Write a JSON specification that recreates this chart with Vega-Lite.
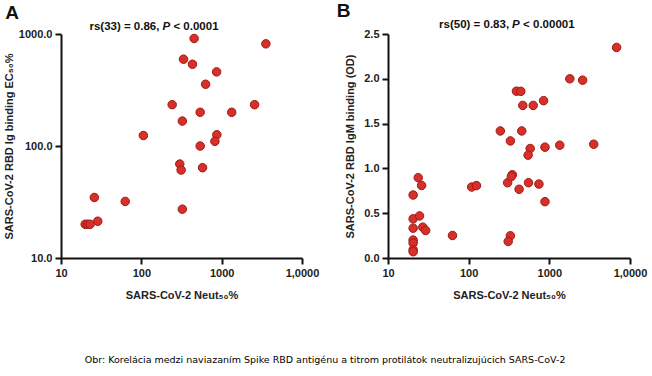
{
  "$schema": "https://vega.github.io/schema/vega-lite/v6.json",
  "background": "white",
  "padding": {"left": 3, "top": 1, "right": 5, "bottom": 5},
  "datasets": {
    "A": [
      {"neut": 454, "ec50": 912}, {"neut": 3550, "ec50": 817}, {"neut": 335, "ec50": 596},
      {"neut": 433, "ec50": 537}, {"neut": 865, "ec50": 459}, {"neut": 631, "ec50": 356},
      {"neut": 242, "ec50": 234}, {"neut": 540, "ec50": 200}, {"neut": 1334, "ec50": 200},
      {"neut": 2570, "ec50": 234}, {"neut": 324, "ec50": 167}, {"neut": 106, "ec50": 124},
      {"neut": 871, "ec50": 126}, {"neut": 824, "ec50": 110}, {"neut": 540, "ec50": 100},
      {"neut": 301, "ec50": 69}, {"neut": 313, "ec50": 61}, {"neut": 578, "ec50": 64},
      {"neut": 26, "ec50": 34.7}, {"neut": 63, "ec50": 32}, {"neut": 324, "ec50": 27.3},
      {"neut": 20, "ec50": 20}, {"neut": 21.5, "ec50": 20}, {"neut": 23, "ec50": 20},
      {"neut": 28.7, "ec50": 21.3}
    ],
    "B": [
      {"neut": 6820, "od": 2.35}, {"neut": 1795, "od": 2.0}, {"neut": 2585, "od": 1.985},
      {"neut": 391, "od": 1.862}, {"neut": 443, "od": 1.86}, {"neut": 469, "od": 1.703},
      {"neut": 631, "od": 1.703}, {"neut": 849, "od": 1.756}, {"neut": 247, "od": 1.418},
      {"neut": 455, "od": 1.418}, {"neut": 329, "od": 1.307}, {"neut": 579, "od": 1.222},
      {"neut": 546, "od": 1.148}, {"neut": 883, "od": 1.237}, {"neut": 1346, "od": 1.259},
      {"neut": 3550, "od": 1.27}, {"neut": 20.5, "od": 0.703}, {"neut": 23.7, "od": 0.896},
      {"neut": 26.1, "od": 0.81}, {"neut": 20.5, "od": 0.437}, {"neut": 24.6, "od": 0.47},
      {"neut": 20.5, "od": 0.333}, {"neut": 27, "od": 0.344}, {"neut": 29.3, "od": 0.307},
      {"neut": 20.5, "od": 0.2}, {"neut": 20.5, "od": 0.167}, {"neut": 20.5, "od": 0.092},
      {"neut": 20.5, "od": 0.07}, {"neut": 63, "od": 0.251}, {"neut": 109, "od": 0.792},
      {"neut": 125, "od": 0.808}, {"neut": 304, "od": 0.84}, {"neut": 348, "od": 0.929},
      {"neut": 338, "od": 0.91}, {"neut": 422, "od": 0.767}, {"neut": 552, "od": 0.84},
      {"neut": 743, "od": 0.825}, {"neut": 883, "od": 0.629}, {"neut": 329, "od": 0.248},
      {"neut": 309, "od": 0.185}
    ],
    "annA": [{"x": 22.6, "y": 1166, "t1": "rs(33) = 0.86,", "t2": "P", "t3": "< 0.0001"}],
    "annB": [{"x": 43, "y": 2.603, "t1": "rs(50) = 0.83,", "t2": "P", "t3": "< 0.00001"}]
  },
  "title": {
    "text": "Obr:  Korelácia medzi naviazaním Spike RBD antigénu a titrom protilátok neutralizujúcich SARS-CoV-2",
    "orient": "bottom", "anchor": "middle", "font": "DejaVu Sans", "fontSize": 9.5,
    "fontWeight": "normal", "color": "#000", "offset": 55
  },
  "spacing": 17,
  "hconcat": [
    {
      "title": {"text": "A", "anchor": "start", "frame": "bounds", "fontSize": 19, "fontWeight": "bold", "font": "Liberation Sans", "color": "#111", "offset": -2, "dx": 2},
      "width": 241,
      "height": 224,
      "layer": [
        {
          "data": {"name": "A"},
          "mark": {"type": "circle", "size": 72, "opacity": 1, "fill": "#d7302a", "stroke": "#a01a14", "strokeWidth": 1},
          "encoding": {
            "x": {"field": "neut", "type": "quantitative",
              "scale": {"type": "log", "domain": [10, 10000], "nice": false},
              "axis": {"values": [10, 100, 1000, 10000], "labelExpr": "datum.value == 10000 ? '1,0000' : format(datum.value, 'd')", "title": "SARS-CoV-2 Neut₅₀%", "titlePadding": 11}},
            "y": {"field": "ec50", "type": "quantitative",
              "scale": {"type": "log", "domain": [10, 1000], "nice": false},
              "axis": {"values": [10, 100, 1000], "format": ".1f", "title": "SARS-CoV-2 RBD Ig binding EC₅₀%", "titlePadding": 4}}
          }
        },
        {
          "data": {"name": "annA"},
          "mark": {"type": "text", "align": "left", "baseline": "middle", "font": "Liberation Sans", "fontSize": 11.5, "fontWeight": "bold", "color": "#111"},
          "encoding": {"x": {"field": "x", "type": "quantitative"}, "y": {"field": "y", "type": "quantitative"}, "text": {"field": "t1"}}
        },
        {
          "data": {"name": "annA"},
          "mark": {"type": "text", "align": "left", "baseline": "middle", "font": "Liberation Sans", "fontSize": 11.5, "fontWeight": "bold", "fontStyle": "italic", "color": "#111", "dx": 73},
          "encoding": {"x": {"field": "x", "type": "quantitative"}, "y": {"field": "y", "type": "quantitative"}, "text": {"field": "t2"}}
        },
        {
          "data": {"name": "annA"},
          "mark": {"type": "text", "align": "left", "baseline": "middle", "font": "Liberation Sans", "fontSize": 11.5, "fontWeight": "bold", "color": "#111", "dx": 84},
          "encoding": {"x": {"field": "x", "type": "quantitative"}, "y": {"field": "y", "type": "quantitative"}, "text": {"field": "t3"}}
        }
      ]
    },
    {
      "title": {"text": "B", "anchor": "start", "frame": "bounds", "fontSize": 19, "fontWeight": "bold", "font": "Liberation Sans", "color": "#111", "offset": -2, "dx": -8},
      "width": 242,
      "height": 224,
      "layer": [
        {
          "data": {"name": "B"},
          "mark": {"type": "circle", "size": 72, "opacity": 1, "fill": "#d7302a", "stroke": "#a01a14", "strokeWidth": 1},
          "encoding": {
            "x": {"field": "neut", "type": "quantitative",
              "scale": {"type": "log", "domain": [10, 10000], "nice": false},
              "axis": {"values": [10, 100, 1000, 10000], "labelExpr": "datum.value == 10000 ? '1,0000' : format(datum.value, 'd')", "title": "SARS-CoV-2 Neut₅₀%", "titlePadding": 11}},
            "y": {"field": "od", "type": "quantitative",
              "scale": {"domain": [0, 2.5], "nice": false},
              "axis": {"values": [0, 0.5, 1, 1.5, 2, 2.5], "format": ".1f", "title": "SARS-CoV-2 RBD IgM binding (OD)", "titlePadding": 8}}
          }
        },
        {
          "data": {"name": "annB"},
          "mark": {"type": "text", "align": "left", "baseline": "middle", "font": "Liberation Sans", "fontSize": 11.5, "fontWeight": "bold", "color": "#111"},
          "encoding": {"x": {"field": "x", "type": "quantitative"}, "y": {"field": "y", "type": "quantitative"}, "text": {"field": "t1"}}
        },
        {
          "data": {"name": "annB"},
          "mark": {"type": "text", "align": "left", "baseline": "middle", "font": "Liberation Sans", "fontSize": 11.5, "fontWeight": "bold", "fontStyle": "italic", "color": "#111", "dx": 73},
          "encoding": {"x": {"field": "x", "type": "quantitative"}, "y": {"field": "y", "type": "quantitative"}, "text": {"field": "t2"}}
        },
        {
          "data": {"name": "annB"},
          "mark": {"type": "text", "align": "left", "baseline": "middle", "font": "Liberation Sans", "fontSize": 11.5, "fontWeight": "bold", "color": "#111", "dx": 84},
          "encoding": {"x": {"field": "x", "type": "quantitative"}, "y": {"field": "y", "type": "quantitative"}, "text": {"field": "t3"}}
        }
      ]
    }
  ],
  "config": {
    "view": {"stroke": null},
    "axis": {
      "grid": false, "domainColor": "#111", "domainWidth": 2, "tickColor": "#111", "tickWidth": 2, "tickSize": 6,
      "labelFont": "Liberation Sans", "labelFontSize": 11, "labelFontWeight": "bold", "labelColor": "#222", "labelPadding": 3,
      "titleFont": "Liberation Sans", "titleFontSize": 11, "titleFontWeight": "bold", "titleColor": "#222", "labelOverlap": false, "labelFlush": false
    }
  }
}
